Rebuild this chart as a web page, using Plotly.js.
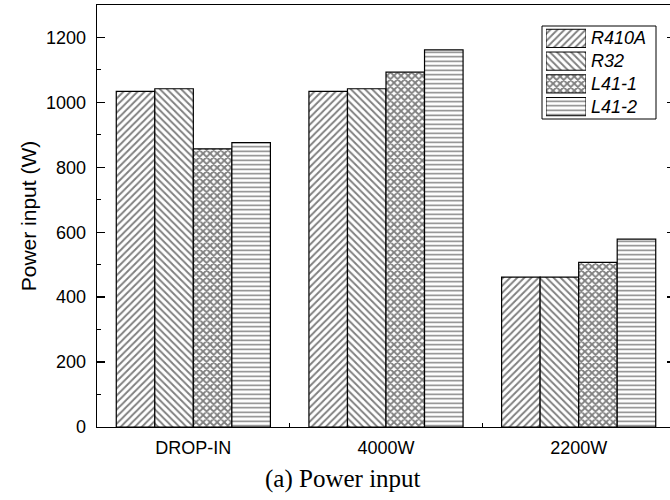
<!DOCTYPE html>
<html>
<head>
<meta charset="utf-8">
<script src="https://cdn.plot.ly/plotly-3.0.1.min.js"></script>
<style>
  html, body { margin: 0; padding: 0; overflow: hidden; background: #fff; }
  #chart { width: 675px; height: 500px; }
</style>
</head>
<body>
<div id="chart"></div>
<script>
// ---- data ----
const categories = ['DROP-IN', '4000W', '2200W'];
const seriesNames = ['R410A', 'R32', 'L41-1', 'L41-2'];
const R410A = [1034, 1034, 462];
const R32   = [1042, 1042, 462];
const L41_1 = [857, 1093, 507];
const L41_2 = [876, 1162, 579];
const seriesValues = [R410A, R32, L41_1, L41_2];
const patterns = ['/', '\\', 'x', '-'];
const legendSwatchValue = [1, 1, 1, 1];

// ---- geometry helpers ----
const W = 675, H = 500;
const M = {l: 97, r: 0, t: 5, b: 73};
const PW = W - M.l - M.r, PH = H - M.t - M.b;
const px2x = p => (p - M.l) / PW;
const px2y = p => (H - M.b - p) / PH;

const patternSize = [5, 5, 5, 4.5];
const patternSolidity = [0.38, 0.38, 0.6, 0.32];

const traces = seriesValues.map((vals, i) => ({
  type: 'bar',
  name: seriesNames[i],
  x: categories,
  y: vals,
  showlegend: false,
  hoverinfo: 'skip',
  marker: {
    color: '#ffffff',
    line: {color: '#000000', width: 1.2},
    pattern: {shape: patterns[i], fgcolor: '#000000', bgcolor: '#ffffff', size: patternSize[i], solidity: patternSolidity[i], fillmode: 'overlay'}
  }
}));

// custom legend swatches (drawn on an inset axis)
traces.push({
  type: 'bar',
  orientation: 'h',
  x: legendSwatchValue,
  y: seriesNames,
  xaxis: 'x2',
  yaxis: 'y2',
  width: 0.8,
  showlegend: false,
  hoverinfo: 'skip',
  marker: {
    color: '#ffffff',
    line: {color: '#000000', width: 1},
    pattern: {shape: patterns, fgcolor: '#000000', bgcolor: '#ffffff', size: patternSize, solidity: patternSolidity, fillmode: 'overlay'}
  }
});

const legTop = 26, legBot = 119, legLeft = 542, legRight = 656;
const swLeft = 546, swRight = 586, swTop = 27, swBot = 118;

const annotations = seriesNames.map((n, i) => ({
  xref: 'paper', yref: 'paper',
  x: px2x(589), y: px2y(swTop + (swBot - swTop) * (i + 0.5) / 4),
  xanchor: 'left', yanchor: 'middle',
  text: n, showarrow: false,
  font: {family: 'Liberation Sans, Arial, sans-serif', size: 18, color: '#000', style: 'italic'}
}));
annotations.push({
  xref: 'paper', yref: 'paper',
  x: px2x(343), y: px2y(479),
  xanchor: 'center', yanchor: 'middle',
  text: '(a) Power input', showarrow: false,
  font: {family: 'Liberation Serif, Times New Roman, serif', size: 25, color: '#000'}
});

const layout = {
  width: W, height: H,
  margin: M,
  paper_bgcolor: '#ffffff',
  plot_bgcolor: '#ffffff',
  barmode: 'group',
  bargap: 0.2,
  bargroupgap: 0,
  showlegend: false,
  font: {family: 'Liberation Sans, Arial, sans-serif', size: 18, color: '#000'},
  xaxis: {
    type: 'category',
    range: [-0.5, 2.5],
    showline: true, linecolor: '#000', linewidth: 1.4, mirror: true,
    ticks: 'inside', tickson: 'boundaries', ticklen: 4, tickcolor: '#000', tickwidth: 1,
    showgrid: false, zeroline: false,
    tickfont: {size: 18, color: '#000'},
    ticklabelstandoff: 4
  },
  yaxis: {
    range: [0, 1300],
    showline: true, linecolor: '#000', linewidth: 1.4, mirror: 'ticks',
    ticks: 'inside', ticklen: 8, tickcolor: '#000', tickwidth: 1.4,
    tickmode: 'linear', tick0: 0, dtick: 200,
    minor: {dtick: 100, ticks: 'inside', ticklen: 4, tickcolor: '#000', tickwidth: 1},
    showgrid: false, zeroline: false,
    tickfont: {size: 18, color: '#000'},
    ticklabelstandoff: 6,
    title: {text: 'Power input (W)', font: {size: 21, color: '#000'}, standoff: 3}
  },
  xaxis2: {
    domain: [px2x(swLeft), px2x(swRight)],
    anchor: 'y2', range: [0, 1],
    visible: false, fixedrange: true
  },
  yaxis2: {
    domain: [px2y(swBot), px2y(swTop)],
    anchor: 'x2', type: 'category', autorange: 'reversed',
    visible: false, fixedrange: true
  },
  shapes: [{
    type: 'rect', xref: 'paper', yref: 'paper',
    x0: px2x(legLeft), x1: px2x(legRight), y0: px2y(legBot), y1: px2y(legTop),
    line: {color: '#000', width: 1}, fillcolor: 'rgba(0,0,0,0)', layer: 'below'
  }],
  annotations: annotations
};

Plotly.newPlot('chart', traces, layout, {staticPlot: true, displayModeBar: false});
</script>
</body>
</html>
